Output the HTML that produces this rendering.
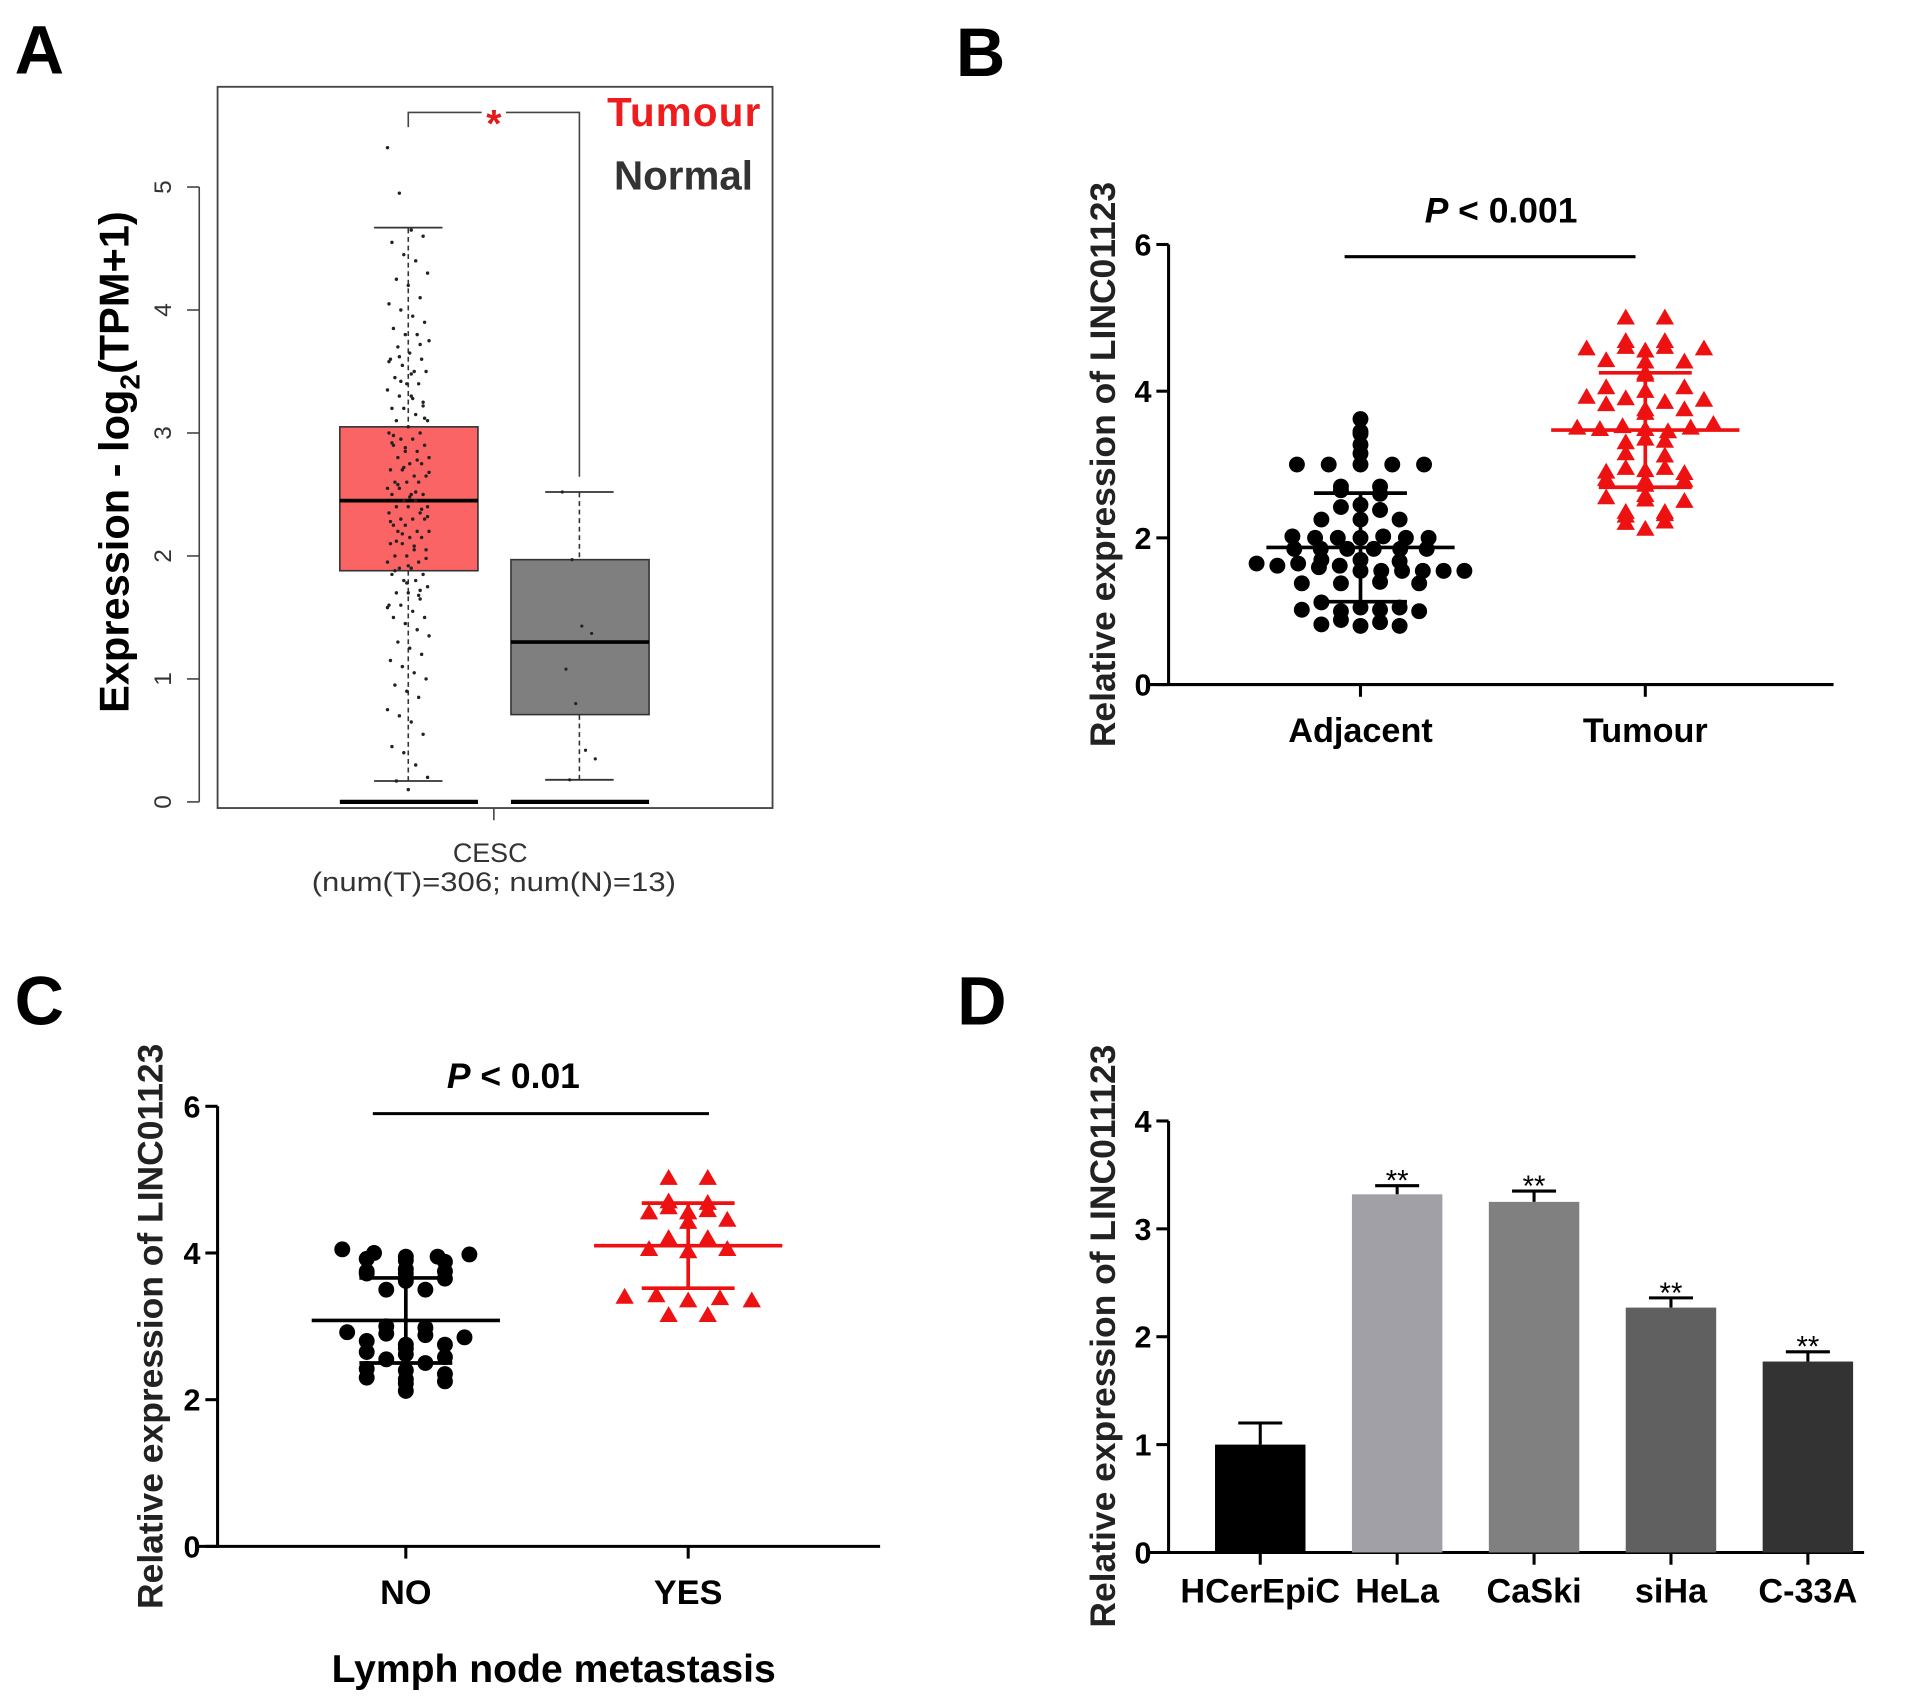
<!DOCTYPE html>
<html><head><meta charset="utf-8"><style>
html,body{margin:0;padding:0;background:#fff}
svg{display:block}
text{font-family:"Liberation Sans",Arial,sans-serif}
</style></head><body>
<svg id="fig" width="1913" height="1707" viewBox="0 0 1565 1396.4" preserveAspectRatio="none" xmlns="http://www.w3.org/2000/svg">
<rect width="1565" height="1396.4" fill="#fff"/>
<g id="pa"></g>
<g id="pb"></g>
<g id="pc"></g>
<g id="pd"></g>
</svg>
<script>
// ---------- Panel A data ----------
const aTicks=[0,1,2,3,4,5];
const aTumourBox=[0.17,1.88,2.45,3.05,4.67]; // lowWhisker,q1,median,q3,highWhisker
const aNormalBox=[0.18,0.71,1.3,1.97,2.52];
const aTumourPts=[5.32,4.95,4.65,4.6,4.55,4.45,4.4,4.3,4.25,4.2,4.1,4.05,4.0,3.95,3.9,3.85,3.8,3.8,3.75,3.7,3.65,3.6,3.6,3.55,3.5,3.5,3.45,3.4,3.4,3.35,3.3,3.3,3.25,3.2,3.2,3.15,3.1,3.1,3.05,3.0,3.0,2.95,2.95,2.9,2.9,2.85,2.85,2.8,2.8,2.75,2.75,2.7,2.7,2.65,2.65,2.6,2.6,2.6,2.55,2.55,2.5,2.5,2.5,2.45,2.45,2.4,2.4,2.4,2.35,2.35,2.3,2.3,2.3,2.25,2.25,2.2,2.2,2.2,2.15,2.15,2.1,2.1,2.05,2.05,2.0,2.0,1.95,1.95,1.9,1.9,1.85,1.85,1.8,1.8,1.75,1.7,1.7,1.65,1.6,1.6,1.55,1.5,1.5,1.45,1.4,1.35,1.3,1.25,1.2,1.15,1.1,1.05,1.0,0.95,0.9,0.85,0.75,0.7,0.65,0.55,0.45,0.4,0.3,0.2,0.17,0.1,3.72,3.58,3.42,3.28,3.12,2.98,2.88,2.78,2.68,2.58,2.48,2.38,2.28,2.18,2.08,1.98,1.88,1.78,1.68,1.58,3.62,3.48,3.22,2.92,2.72,2.52,2.32,2.12,1.92,1.72];
const aNormalPts=[2.52,1.97,1.43,1.37,1.08,0.8,0.42,0.35,0.18];
// ---------- Panel B data ----------
const bCats=["Adjacent","Tumour"];
const bTicks=[0,2,4,6];
const bAdj=[3.62,3.45,3.42,3.27,3.15,3.0,3.0,3.0,3.0,3.0,2.7,2.7,2.65,2.6,2.42,2.38,2.45,2.25,2.25,2.25,2.02,2.0,2.0,2.0,2.02,2.0,2.0,1.85,1.85,1.85,1.85,1.85,1.85,1.7,1.7,1.68,1.65,1.62,1.65,1.6,1.62,1.55,1.55,1.55,1.55,1.55,1.55,1.38,1.38,1.4,1.38,1.12,1.05,1.05,1.02,1.0,1.02,1.0,0.88,0.85,0.82,0.8,0.8];
const bTum=[5.0,5.0,4.68,4.68,4.58,4.6,4.55,4.6,4.58,4.42,4.4,4.4,4.22,4.25,4.05,4.0,4.05,3.92,3.9,3.85,3.88,3.82,3.75,3.7,3.75,3.5,3.48,3.52,3.48,3.45,3.5,3.55,3.35,3.3,3.32,3.15,3.12,2.95,2.9,2.95,2.92,2.88,2.8,2.78,2.78,2.72,2.55,2.52,2.58,2.5,2.35,2.3,2.32,2.35,2.2,2.12,2.22];
const bMean=[1.87,3.47], bSD=[0.74,0.78];
// ---------- Panel C data ----------
const cCats=["NO","YES"];
const cTicks=[0,2,4,6];
const cNo=[4.05,4.0,3.95,3.95,3.92,3.98,3.9,3.88,3.72,3.75,3.78,3.75,3.72,3.62,3.65,3.5,3.5,3.0,2.98,2.92,2.9,2.88,2.85,2.8,2.75,2.7,2.75,2.65,2.62,2.55,2.58,2.5,2.42,2.4,2.35,2.3,2.28,2.25,2.22,2.12];
const cYes=[5.02,5.02,4.7,4.68,4.62,4.55,4.55,4.58,4.45,4.42,4.2,4.2,4.05,4.02,4.05,3.4,3.42,3.35,3.38,3.35,3.15,3.15];
const cMean=[3.08,4.1], cSD=[0.58,0.58];
// ---------- Panel D data ----------
const dCats=["HCerEpiC","HeLa","CaSki","siHa","C-33A"];
const dVals=[1.0,3.32,3.25,2.27,1.77];
const dErr=[0.2,0.08,0.1,0.09,0.09];
const dSig=["","**","**","**","**"];
const dTicks=[0,1,2,3,4];
const dColors=["#000","#a0a0a6","#808080","#606060","#333333"];

const NS="http://www.w3.org/2000/svg";
function mk(parent,tag,attrs,txt){const e=document.createElementNS(NS,tag);for(const k in attrs)e.setAttribute(k,attrs[k]);if(txt!==undefined)e.textContent=txt;parent.appendChild(e);return e;}

// ===== Panel A =====
(function(){
const g=document.getElementById('pa');
const y=v=>656-v*100.6;
let t=mk(g,'text',{x:12,y:60,'font-size':56,'font-weight':'bold'},'A');


let fr=mk(g,'rect',{x:178,y:71,width:454,height:590,fill:'none',stroke:'#444','stroke-width':1.5});


mk(g,'line',{x1:163,x2:163,y1:y(0),y2:y(5),stroke:'#444','stroke-width':1.3});
aTicks.forEach(v=>{
 mk(g,'line',{x1:153,x2:163,y1:y(v),y2:y(v),stroke:'#444','stroke-width':1.3});
 const tl=mk(g,'text',{x:0,y:0,'font-size':20,fill:'#333','text-anchor':'middle',transform:`translate(140,${y(v)}) rotate(-90)`},String(v));
 
 
});
const yl=mk(g,'text',{x:0,y:0,'font-size':34,'font-weight':'bold','text-anchor':'middle',transform:'translate(105,378) rotate(-90)'});


yl.innerHTML='Expression - log<tspan font-size="23" dy="9">2</tspan><tspan dy="-9">(TPM+1)</tspan>';
function box(b,cx,fill,name){
 const bg=mk(g,'g',{});
 
 
 mk(bg,'line',{x1:cx,x2:cx,y1:y(b[0]),y2:y(b[4]),stroke:'#333','stroke-width':1.3,'stroke-dasharray':'4,3'});
 mk(bg,'line',{x1:cx-28,x2:cx+28,y1:y(b[4]),y2:y(b[4]),stroke:'#333','stroke-width':1.5});
 mk(bg,'line',{x1:cx-28,x2:cx+28,y1:y(b[0]),y2:y(b[0]),stroke:'#333','stroke-width':1.5});
 mk(bg,'rect',{x:cx-56,y:y(b[3]),width:113,height:y(b[1])-y(b[3]),fill:fill,stroke:'#333','stroke-width':1.3});
 mk(bg,'line',{x1:cx-56,x2:cx+57,y1:y(b[2]),y2:y(b[2]),stroke:'#000','stroke-width':3});
 mk(bg,'line',{x1:cx-56,x2:cx+57,y1:y(0),y2:y(0),stroke:'#000','stroke-width':3.5});
 return bg;
}
const tb=box(aTumourBox,334,'#fa6464','tumour-box');
aTumourPts.forEach((v,i)=>{const jx=((i*37)%29-14)/14*17;
 const c=mk(tb,'circle',{cx:334+jx,cy:y(v),r:1.4,fill:'#222'});
 
 });
const nb=box(aNormalBox,474,'#7f7f7f','normal-box');
aNormalPts.forEach((v,i)=>{const jx=((i*37)%29-14)/14*14;
 const c=mk(nb,'circle',{cx:474+jx,cy:y(v),r:1.3,fill:'#222'});
 
 });
const br=mk(g,'path',{d:`M334,104 V92 H394 M414,92 H474 V390`,fill:'none',stroke:'#444','stroke-width':1.3});


let st=mk(g,'text',{x:404,y:112,'font-size':32,'font-weight':'bold',fill:'#e41a1a','text-anchor':'middle'},'*');


let l1=mk(g,'text',{x:623,y:103,'font-size':33,'font-weight':'bold',fill:'#ee1c1c','text-anchor':'end','letter-spacing':1},'Tumour');


let l2=mk(g,'text',{x:616,y:155,'font-size':33,'font-weight':'bold',fill:'#333','text-anchor':'end'},'Normal');


mk(g,'line',{x1:404,x2:404,y1:661,y2:671,stroke:'#444','stroke-width':1.3});
let x1=mk(g,'text',{x:401,y:705,'font-size':22,fill:'#333','text-anchor':'middle'},'CESC');


let x2=mk(g,'text',{x:404,y:729,'font-size':22,fill:'#333','text-anchor':'middle','textLength':298,'lengthAdjust':'spacingAndGlyphs'},'(num(T)=306; num(N)=13)');


})();

// ===== generic scatter (B, C) =====
function scatterPanel(g,opt){
 const y=v=>opt.y0-v*opt.ppu;
 let t=mk(g,'text',{x:opt.lx,y:opt.ly,'font-size':56,'font-weight':'bold'},opt.letter);
 
 
 mk(g,'line',{x1:opt.ax,x2:opt.ax,y1:y(opt.ticks[opt.ticks.length-1]),y2:y(0)+1,stroke:'#000','stroke-width':2.5});
 mk(g,'line',{x1:opt.ax-18,x2:opt.xend,y1:y(0),y2:y(0),stroke:'#000','stroke-width':2.5});
 opt.ticks.forEach(v=>{
  mk(g,'line',{x1:opt.ax-10,x2:opt.ax,y1:y(v),y2:y(v),stroke:'#000','stroke-width':2.5});
  const tl=mk(g,'text',{x:opt.ax-14,y:y(v)+9,'font-size':25,'font-weight':'bold','text-anchor':'end'},String(v));
  
  
 });
 const yl=mk(g,'text',{x:0,y:0,'font-size':29,'font-weight':'bold','fill':'#222','text-anchor':'middle',transform:`translate(${opt.ylx},${opt.yly}) rotate(-90)`},'Relative expression of LINC01123');
 
 
 opt.cats.forEach((c,i)=>{
  const cx=opt.cx[i];
  mk(g,'line',{x1:cx,x2:cx,y1:y(0),y2:y(0)+10,stroke:'#000','stroke-width':2.5});
  const tl=mk(g,'text',{x:cx,y:y(0)+47,'font-size':28,'font-weight':'bold','text-anchor':'middle'},c);
  
  
  const vals=opt.series[i], col=i?'#ee1111':'#000';
  const bins={};
  vals.forEach(v=>{const k=Math.round(v/0.1);(bins[k]=bins[k]||[]).push(v);});
  const sg=mk(g,'g',{});
  
  
  Object.keys(bins).forEach(k=>{const arr=bins[k];const sp=Math.max(17,Math.min(32,130/arr.length));arr.forEach((v,j)=>{
    const off=(j-(arr.length-1)/2)*sp;
    let m;
    if(i===0){m=mk(sg,'circle',{cx:cx+off,cy:y(v),r:6.5,fill:col});}
    else{const px=cx+off,py=y(v);m=mk(sg,'polygon',{points:`${px},${py-7.5} ${px+7.5},${py+5.5} ${px-7.5},${py+5.5}`,fill:col});}
    
    
  });});
  const mean=opt.mean[i],sd=opt.sd[i];
  const eg=mk(g,'g',{stroke:col,'stroke-width':3});
  
  
  mk(eg,'line',{x1:cx-77,x2:cx+77,y1:y(mean),y2:y(mean)});
  mk(eg,'line',{x1:cx-38,x2:cx+38,y1:y(mean+sd),y2:y(mean+sd)});
  mk(eg,'line',{x1:cx-38,x2:cx+38,y1:y(mean-sd),y2:y(mean-sd)});
  mk(eg,'line',{x1:cx,x2:cx,y1:y(mean+sd),y2:y(mean-sd)});
 });
 const sl=mk(g,'line',{x1:opt.sig[0],x2:opt.sig[1],y1:opt.sig[2],y2:opt.sig[2],stroke:'#000','stroke-width':2.5});
 
 
 const pt=mk(g,'text',{x:opt.px,y:opt.py,'font-size':29,'font-weight':'bold','text-anchor':'middle'});
 
 
 pt.innerHTML='<tspan font-style="italic">P</tspan> &lt; '+opt.ptext;
}
scatterPanel(document.getElementById('pb'),{letter:'B',lx:782,ly:62,y0:560,ppu:60,ax:956,xend:1500,ticks:bTicks,cats:bCats,cx:[1113,1346],series:[bAdj,bTum],mean:bMean,sd:bSD,ylx:912,yly:380,sig:[1100,1338,210],px:1228,py:182,ptext:'0.001'});
scatterPanel(document.getElementById('pc'),{letter:'C',lx:12,ly:838,y0:1265,ppu:60,ax:178,xend:720,ticks:cTicks,cats:cCats,cx:[332,563],series:[cNo,cYes],mean:cMean,sd:cSD,ylx:133,yly:1085,sig:[305,580,911],px:420,py:890,ptext:'0.01'});
(function(){const g=document.getElementById('pc');
const t=mk(g,'text',{x:453,y:1376,'font-size':32,'font-weight':'bold','text-anchor':'middle'},'Lymph node metastasis');

})();

// ===== Panel D =====
(function(){
const g=document.getElementById('pd');
const y=v=>1270-v*88.25;
const xs=i=>1031+i*112;
let t=mk(g,'text',{x:783,y:838,'font-size':56,'font-weight':'bold'},'D');


mk(g,'line',{x1:956,x2:956,y1:y(4),y2:y(0)+1,stroke:'#000','stroke-width':2.5});
mk(g,'line',{x1:938,x2:1525,y1:y(0),y2:y(0),stroke:'#000','stroke-width':2.5});
dTicks.forEach(v=>{
 mk(g,'line',{x1:946,x2:956,y1:y(v),y2:y(v),stroke:'#000','stroke-width':2.5});
 const tl=mk(g,'text',{x:942,y:y(v)+9,'font-size':25,'font-weight':'bold','text-anchor':'end'},String(v));
 
 
});
const yl=mk(g,'text',{x:0,y:0,'font-size':29,'font-weight':'bold','fill':'#222','text-anchor':'middle',transform:'translate(912,1093) rotate(-90)'},'Relative expression of LINC011123');


dCats.forEach((c,i)=>{
 const cx=xs(i),v=dVals[i],e=dErr[i];
 mk(g,'line',{x1:cx,x2:cx,y1:y(e?v+e:v),y2:y(v),stroke:'#000','stroke-width':2.5});
 mk(g,'line',{x1:cx-18,x2:cx+18,y1:y(v+e),y2:y(v+e),stroke:'#000','stroke-width':2.5});
 const b=mk(g,'rect',{x:cx-37,y:y(v),width:74,height:y(0)-y(v),fill:dColors[i]});
 
 
 mk(g,'line',{x1:cx,x2:cx,y1:y(0),y2:y(0)+10,stroke:'#000','stroke-width':2.5});
 const tl=mk(g,'text',{x:cx,y:1311,'font-size':28,'font-weight':'bold','text-anchor':'middle'},c);
 
 
 if(dSig[i]){const s=mk(g,'text',{x:cx,y:y(v+e)+4,'font-size':24,'text-anchor':'middle'},dSig[i]);
 
 }
});
})();
</script>
</body></html>
